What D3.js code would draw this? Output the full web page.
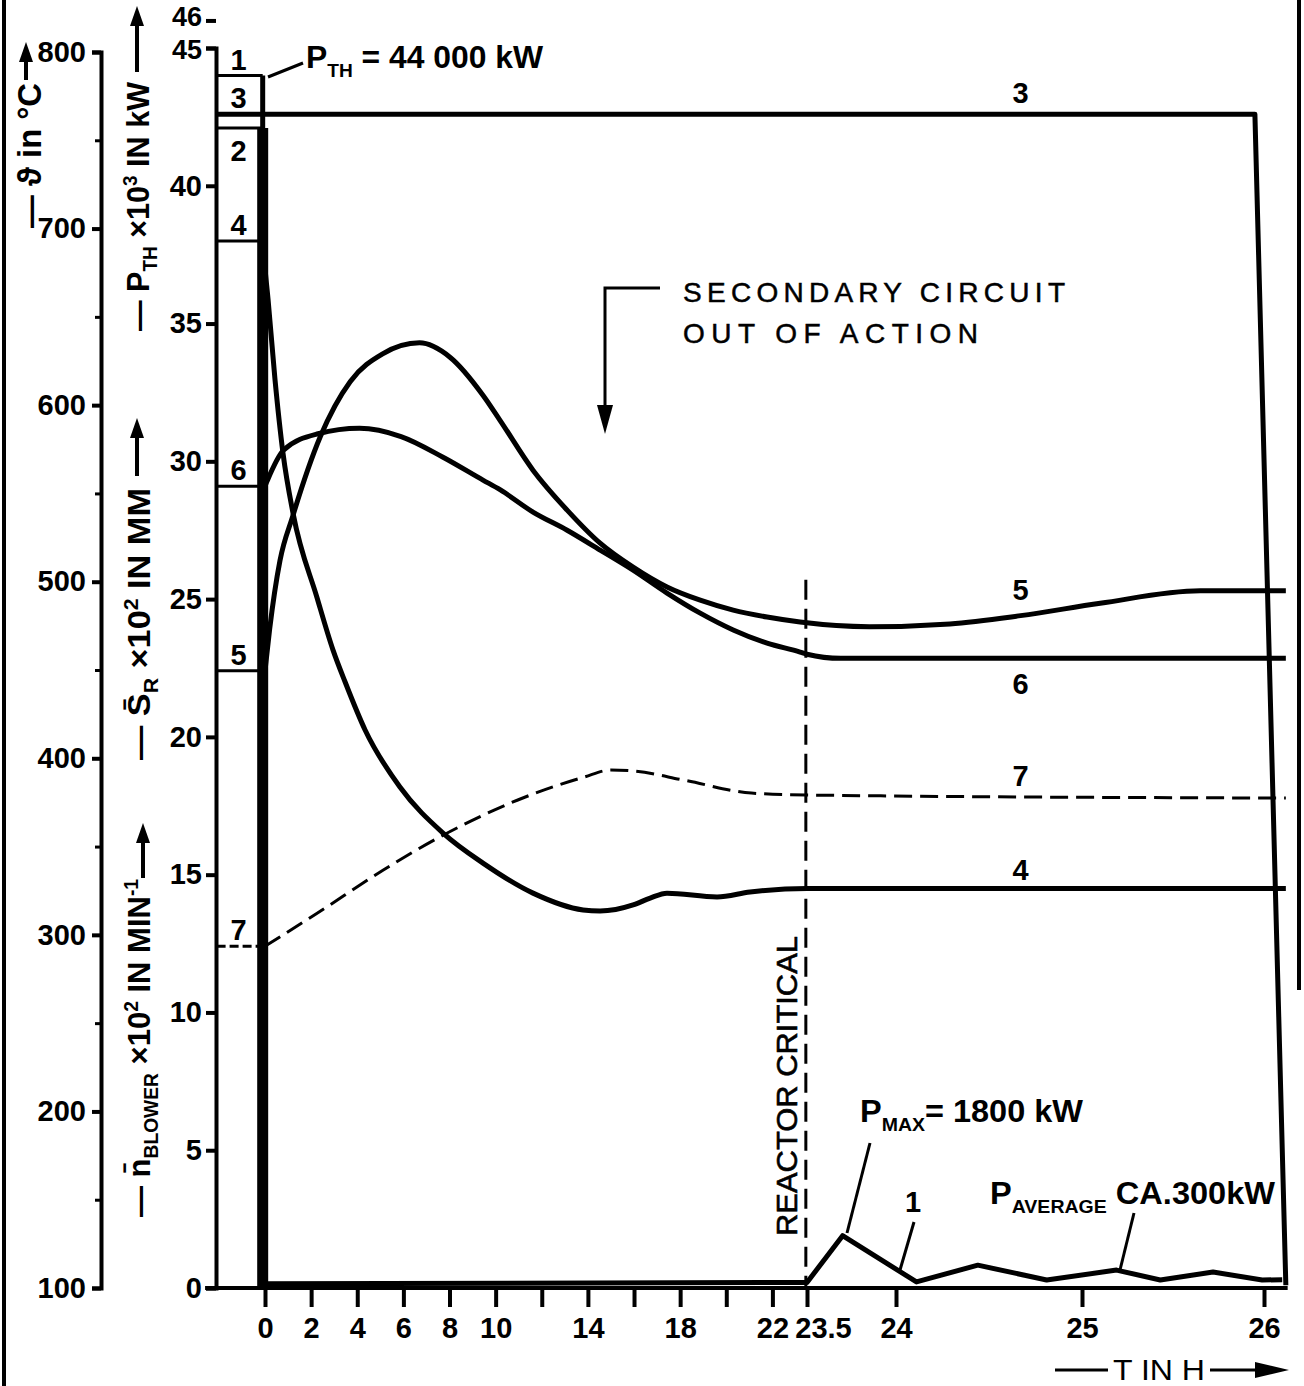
<!DOCTYPE html>
<html>
<head>
<meta charset="utf-8">
<script src="https://cdn.jsdelivr.net/npm/d3@7"></script>
<style>
body { margin: 0; background: #fff; }
svg { display: block; }
text { font-family: "Liberation Sans", "DejaVu Sans", sans-serif; font-weight: bold; fill: #000; }
.plain { font-weight: normal; }
</style>
</head>
<body>
<svg id="chart" width="1304" height="1386"></svg>
<script>
// time in hours, values on the P_TH scale (x10^3 kW)
var curve1 = [[-0.1,44],[-0.1,0.15],[23.5,0.2],[23.7,1.9],[24.11,0.22],[24.44,0.83],[24.81,0.29],[25.19,0.65],[25.43,0.29],[25.72,0.58],[25.99,0.29],[26.1,0.3]];
var curve2 = [[-0.1,42.1],[-0.1,0]];
var curve3 = [[-2.1,42.6],[25.95,42.6],[26.12,0.1]];
var curve4 = [[-0.1,38.0],[0,37.0],[0.13,35.9],[0.43,33.0],[0.78,30.3],[1.22,28.1],[2.25,25.07],[2.95,23.15],[3.47,22.0],[4.34,20.25],[5.85,18.18],[7.72,16.51],[9.45,15.42],[11.62,14.33],[13.79,13.72],[14.53,13.68],[15.96,13.9],[16.7,14.15],[17.43,14.33],[19.6,14.19],[21.03,14.37],[23.5,14.5],[26.12,14.5]];
var curve5 = [[0,22.4],[0.2,23.9],[0.65,26.4],[1.2,28.0],[2.4,30.9],[3.7,32.9],[5.1,33.9],[6.7,34.3],[8.02,33.78],[9.45,32.4],[10.19,31.49],[11.62,29.68],[13.1,28.23],[14.53,27.03],[15.96,26.16],[17.43,25.44],[18.87,24.96],[20.3,24.6],[21.77,24.35],[23.2,24.17],[23.85,24.0],[24.29,24.1],[24.67,24.4],[25.1,24.85],[25.65,25.3],[26.12,25.3]];
var curve6 = [[0,29.1],[0.1,29.3],[0.8,30.4],[2.3,31.0],[4.1,31.2],[5.9,30.9],[7.72,30.15],[9.45,29.32],[10.19,28.97],[11.62,28.16],[13.1,27.5],[14.53,26.78],[15.96,26.05],[17.43,25.22],[18.87,24.49],[20.3,23.88],[21.77,23.4],[23.2,23.08],[23.5,23.0],[23.69,22.85],[26.12,22.85]];
var curve7 = [[0,12.4],[2.26,13.6],[5.13,15.17],[7.74,16.44],[10.96,17.71],[13.83,18.54],[15.0,18.8],[16.0,18.76],[18.17,18.43],[21.09,17.96],[23.48,17.89],[26.12,17.78]];

// starting values shown in the box left of t = 0
var stubNames = ["1","3","2","4","6","5","7"];
var stubValues = [44, 42.6, 42.1, 38.0, 29.1, 22.4, 12.4];

var xTicks = [0,2,4,6,8,10,12,14,16,18,20,22,23.5,24,25,26];
var xTickLabels = ["0","2","4","6","8","10","","14","","18","","22","23.5","24","25","26"];
var pTicks = [0,5,10,15,20,25,30,35,40,45,46];
var tempTicks = [100,200,300,400,500,600,700,800];
var tempMinor = [150,250,350,450,550,650,750];

var svg = d3.select("#chart");

var x = d3.scaleLinear()
    .domain([-2.1, 0, 23.5, 24, 25, 26])
    .range([216.6, 265, 807, 896, 1082, 1264]);
var y = d3.scaleLinear().domain([0, 45]).range([1288, 48]);
var yT = d3.scaleLinear().domain([100, 800]).range([1288, 52]);

// page edges of the scan
svg.append("line").attr("x1",4).attr("x2",4).attr("y1",0).attr("y2",1386)
    .attr("stroke","#000").attr("stroke-width",4);
svg.append("line").attr("x1",1299).attr("x2",1299).attr("y1",0).attr("y2",990)
    .attr("stroke","#000").attr("stroke-width",4);

function styleAxis(g, size) {
    g.selectAll("path.domain").attr("stroke-width", 4).attr("stroke", "#000");
    g.selectAll(".tick line").attr("stroke-width", 4).attr("stroke", "#000");
    g.selectAll(".tick text")
        .attr("font-family", "Liberation Sans, DejaVu Sans, sans-serif")
        .attr("font-weight", "bold")
        .attr("font-size", size);
}

// temperature axis
var gT = svg.append("g").attr("transform", "translate(101,0)")
    .call(d3.axisLeft(yT).tickValues(tempTicks).tickSize(9).tickSizeOuter(9).tickPadding(6));
styleAxis(gT, 29);
var gTm = svg.append("g").attr("transform", "translate(101,0)")
    .call(d3.axisLeft(yT).tickValues(tempMinor).tickSize(6).tickFormat(""));
gTm.select("path.domain").remove();
gTm.selectAll(".tick line").attr("stroke-width", 3);

// power axis
var gP = svg.append("g").attr("transform", "translate(216,0)")
    .call(d3.axisLeft(y).tickValues(pTicks).tickSize(10).tickSizeOuter(10).tickPadding(4));
styleAxis(gP, 29);
gP.selectAll(".tick text").filter(function(d) { return d >= 45; })
    .attr("font-size", 27)
    .attr("dy", function(d) { return d === 46 ? "0.2em" : "0.4em"; });

// time axis
var gX = svg.append("g").attr("transform", "translate(0,1288)")
    .call(d3.axisBottom(x).tickValues(xTicks)
        .tickFormat(function(d, i) { return xTickLabels[i]; })
        .tickSize(19).tickPadding(10));
gX.select("path.domain").remove();
styleAxis(gX, 29);
gX.selectAll(".tick text").filter(function(d) { return d === 23.5; }).attr("dx", 16);
svg.append("line")
    .attr("x1", x(-2.6)).attr("x2", x(26.13))
    .attr("y1", y(0)).attr("y2", y(0))
    .attr("stroke", "#000").attr("stroke-width", 4);

// left box with starting values
stubValues.forEach(function(v, i) {
    svg.append("line")
        .attr("x1", x(-2.1)).attr("x2", x(-0.1))
        .attr("y1", y(v)).attr("y2", y(v))
        .attr("stroke", "#000").attr("stroke-width", 3)
        .attr("stroke-dasharray", stubNames[i] === "7" ? "9,4" : null);
    svg.append("text")
        .attr("x", (x(-2.1) + x(-0.1)) / 2 - 1)
        .attr("y", stubNames[i] === "2" ? y(v) + 33 : y(v) - 6)
        .attr("text-anchor", "middle")
        .attr("font-size", 29)
        .text(stubNames[i]);
});

var lin = d3.line().x(function(d) { return x(d[0]); }).y(function(d) { return y(d[1]); });
var smooth = d3.line().x(function(d) { return x(d[0]); }).y(function(d) { return y(d[1]); })
    .curve(d3.curveMonotoneX);

function draw(data, gen, w, dash) {
    svg.append("path")
        .attr("d", gen(data))
        .attr("fill", "none")
        .attr("stroke", "#000")
        .attr("stroke-width", w)
        .attr("stroke-linejoin", "round")
        .attr("stroke-dasharray", dash || null);
}

draw(curve2, lin, 11);
draw(curve3, lin, 5);
draw(curve4, smooth, 5);
draw(curve5, smooth, 5);
draw(curve6, smooth, 5);
draw(curve7, smooth, 3, "18,8");
draw(curve1, lin, 5);

// reactor critical
svg.append("line")
    .attr("x1", x(23.45)).attr("x2", x(23.45))
    .attr("y1", y(25.7)).attr("y2", y(0))
    .attr("stroke", "#000").attr("stroke-width", 3)
    .attr("stroke-dasharray", "20,9");
svg.append("text")
    .attr("transform", "translate(797,1236) rotate(-90)")
    .attr("font-size", 30).attr("class", "plain")
    .attr("stroke", "#000").attr("stroke-width", 0.6)
    .attr("textLength", 300).attr("lengthAdjust", "spacingAndGlyphs")
    .text("REACTOR CRITICAL");

// curve numbers at the right
var endLabels = [["3",43.4],["5",25.33],["6",21.95],["7",18.61],["4",15.17]];
endLabels.forEach(function(d) {
    svg.append("text")
        .attr("x", x(24.67)).attr("y", y(d[1]))
        .attr("dy", "0.36em")
        .attr("text-anchor", "middle")
        .attr("font-size", 29)
        .text(d[0]);
});

function leader(x1, y1, x2, y2) {
    svg.append("line").attr("x1", x1).attr("y1", y1).attr("x2", x2).attr("y2", y2)
        .attr("stroke", "#000").attr("stroke-width", 3);
}

// annotations with subscripts
function subText(px, py, main, sub, rest, len, size) {
    var t = svg.append("text").attr("x", px).attr("y", py).attr("font-size", size)
        .attr("textLength", len).attr("lengthAdjust", "spacingAndGlyphs");
    t.append("tspan").text(main);
    t.append("tspan").attr("font-size", size * 0.6).attr("dy", 9).text(sub);
    t.append("tspan").attr("dy", -9).text(rest);
}
subText(306, 68, "P", "TH", " = 44 000 kW", 237, 31);
leader(268, 77, 303, 63);
subText(860, 1122, "P", "MAX", "= 1800 kW", 223, 31);
leader(870, 1143, 847, 1233);
svg.append("text").attr("x", 913).attr("y", 1212).attr("text-anchor", "middle")
    .attr("font-size", 29).text("1");
leader(914, 1222, 900, 1270);
subText(990, 1204, "P", "AVERAGE", " CA.300kW", 285, 31);
leader(1134, 1213, 1120, 1270);

// secondary circuit note
svg.append("text").attr("x", 683).attr("y", 302).attr("font-size", 28).attr("class", "plain")
    .attr("stroke", "#000").attr("stroke-width", 0.5)
    .attr("textLength", 382).attr("lengthAdjust", "spacing").text("SECONDARY CIRCUIT");
svg.append("text").attr("x", 683).attr("y", 343).attr("font-size", 28).attr("class", "plain")
    .attr("stroke", "#000").attr("stroke-width", 0.5)
    .attr("textLength", 295).attr("lengthAdjust", "spacing").text("OUT OF ACTION");
svg.append("path").attr("d", "M660,288H605V410").attr("fill", "none")
    .attr("stroke", "#000").attr("stroke-width", 3);
svg.append("path").attr("d", "M597,405L613,405L605,434Z").attr("fill", "#000");

// axis titles, drawn rotated
function arrowUp(ax, yBase, yTip) {
    svg.append("line").attr("x1", ax).attr("x2", ax).attr("y1", yBase).attr("y2", yTip + 15)
        .attr("stroke", "#000").attr("stroke-width", 4);
    svg.append("path")
        .attr("d", "M" + (ax - 7) + "," + (yTip + 20) + "L" + (ax + 7) + "," + (yTip + 20) + "L" + ax + "," + yTip + "Z")
        .attr("fill", "#000");
}
function title(bx, by, len, parts, size) {
    var t = svg.append("text")
        .attr("transform", "translate(" + bx + "," + by + ") rotate(-90)")
        .attr("font-size", size)
        .attr("textLength", len).attr("lengthAdjust", "spacingAndGlyphs");
    var shift = 0;
    parts.forEach(function(p) {
        var s = t.append("tspan").text(p[0]);
        var target = p[1] === "sub" ? 8 : p[1] === "sup" ? -12 : 0;
        if (target !== shift) { s.attr("dy", target - shift); shift = target; }
        if (p[1]) s.attr("font-size", size * 0.62);
    });
}
title(41, 228, 145, [["— \u03D1 in \u00B0C"]], 34);
arrowUp(26, 80, 42);
title(149, 331, 249, [["— P"], ["TH", "sub"], [" \u00D710"], ["3", "sup"], [" IN kW"]], 32);
arrowUp(137, 72, 6);
title(150, 760, 272, [["— S\u0304"], ["R", "sub"], [" \u00D710"], ["2", "sup"], [" IN MM"]], 32);
arrowUp(137, 476, 418);
title(150, 1217, 338, [["— n\u0304"], ["BLOWER", "sub"], [" \u00D710"], ["2", "sup"], [" IN MIN"], ["-1", "sup"]], 32);
arrowUp(143, 878, 823);

// time axis title
leader(1055, 1370, 1108, 1370);
svg.append("text").attr("x", 1113).attr("y", 1380).attr("font-size", 29).attr("class", "plain")
    .attr("textLength", 92).attr("lengthAdjust", "spacingAndGlyphs").text("T IN H");
leader(1210, 1370, 1262, 1370);
svg.append("path").attr("d", "M1255,1362L1255,1378L1289,1370Z").attr("fill", "#000");
</script>
</body>
</html>
